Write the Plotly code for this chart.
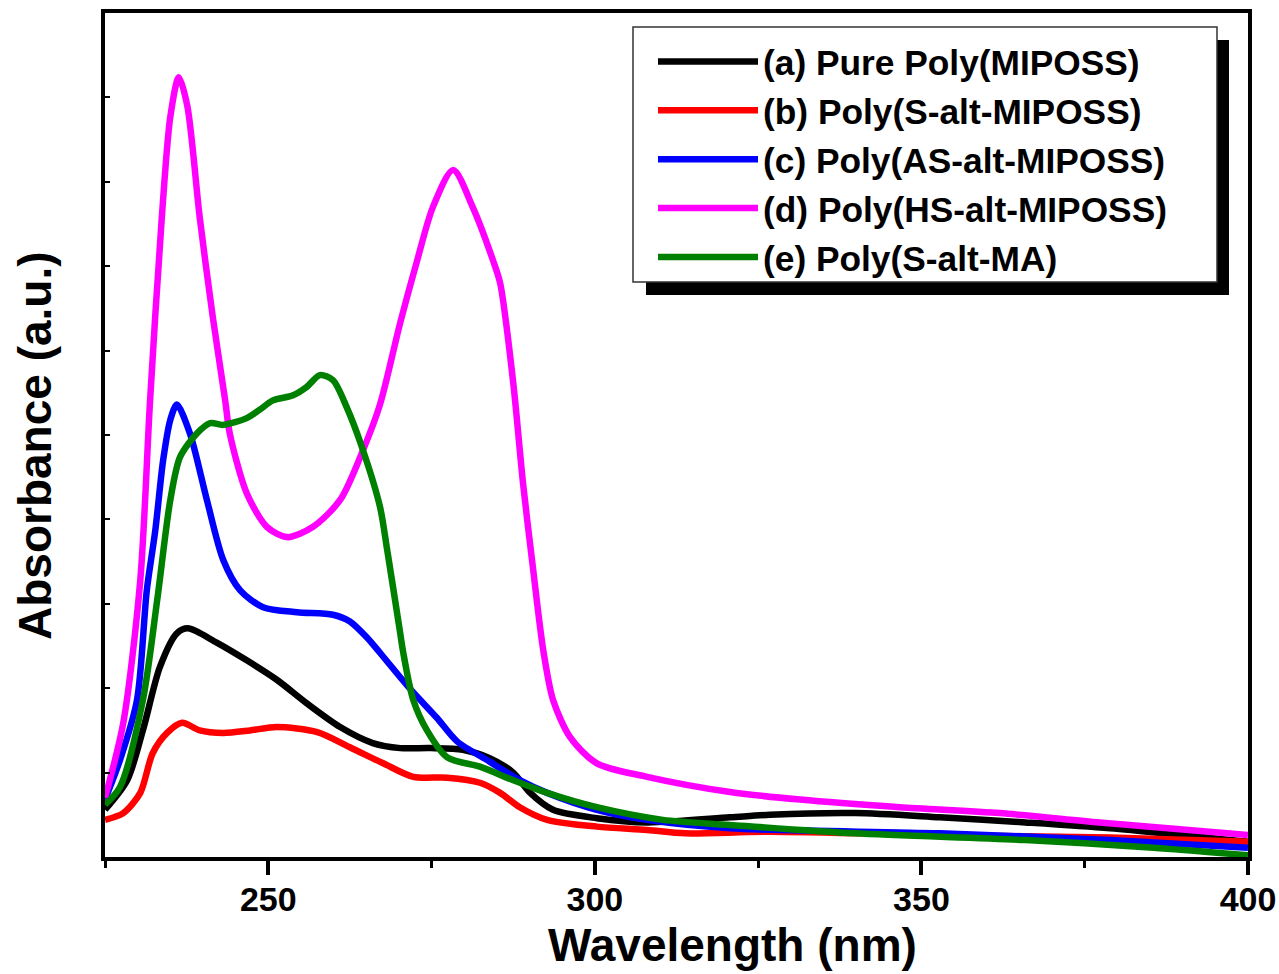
import plotly.graph_objects as go

# (a) Pure Poly(MIPOSS)
wl_a = [225.0, 228.4, 230.8, 233.4, 236.0, 237.7, 242.1, 246.7, 251.3, 255.9, 261.0, 266.0, 270.2, 274.8,
        279.8, 283.9, 287.5, 290.1, 293.6, 300.3, 308.0, 320.7, 326.8, 339.8, 352.8, 365.9, 378.9, 400.0]
abs_a = [0.056, 0.091, 0.150, 0.225, 0.265, 0.271, 0.254, 0.233, 0.210, 0.182, 0.154, 0.135, 0.129, 0.129,
         0.127, 0.117, 0.100, 0.076, 0.056, 0.046, 0.041, 0.047, 0.050, 0.052, 0.047, 0.041, 0.034, 0.018]

# (b) Poly(S-alt-MIPOSS)
wl_b = [225.0, 227.8, 230.4, 232.3, 234.5, 236.8, 239.5, 243.1, 247.2, 251.3, 257.5, 262.5, 267.6, 272.2,
        277.4, 282.4, 285.5, 288.5, 292.7, 300.3, 308.0, 313.8, 326.8, 352.8, 378.9, 400.0]
abs_b = [0.044, 0.052, 0.076, 0.123, 0.147, 0.159, 0.150, 0.147, 0.150, 0.154, 0.148, 0.130, 0.111, 0.095,
         0.094, 0.088, 0.076, 0.059, 0.044, 0.036, 0.032, 0.028, 0.030, 0.026, 0.023, 0.018]

# (c) Poly(AS-alt-MIPOSS)
wl_c = [225.0, 227.3, 229.9, 231.4, 232.7, 233.9, 235.0, 236.0, 238.0, 240.6, 243.1, 245.7, 249.2, 254.4,
        259.9, 262.5, 265.1, 267.1, 270.2, 272.2, 275.8, 278.9, 283.9, 288.5, 292.7, 300.3, 308.0, 320.7,
        352.8, 378.9, 400.0]
abs_c = [0.068, 0.115, 0.186, 0.316, 0.387, 0.470, 0.518, 0.536, 0.502, 0.423, 0.352, 0.316, 0.296, 0.290,
         0.287, 0.279, 0.260, 0.242, 0.213, 0.195, 0.165, 0.137, 0.113, 0.091, 0.076, 0.056, 0.044, 0.034,
         0.028, 0.020, 0.011]

# (d) Poly(HS-alt-MIPOSS)
wl_d = [225.0, 227.8, 230.4, 231.9, 233.7, 235.0, 236.3, 237.6, 239.5, 241.5, 243.4, 244.1, 246.7, 249.8,
        252.9, 256.8, 261.0, 264.5, 267.1, 270.2, 272.8, 275.2, 278.3, 281.3, 284.4, 285.5, 287.5, 289.0,
        290.5, 292.1, 293.6, 296.2, 300.3, 308.0, 320.7, 331.4, 346.7, 362.0, 377.3, 400.0]
abs_d = [0.070, 0.159, 0.328, 0.541, 0.758, 0.877, 0.924, 0.890, 0.758, 0.640, 0.541, 0.502, 0.431, 0.391,
         0.379, 0.391, 0.423, 0.482, 0.536, 0.633, 0.707, 0.770, 0.814, 0.770, 0.707, 0.680, 0.562, 0.443,
         0.344, 0.245, 0.186, 0.142, 0.111, 0.095, 0.077, 0.068, 0.059, 0.052, 0.041, 0.026]

# (e) Poly(S-alt-MA)
wl_e = [225.0, 227.3, 230.8, 233.0, 235.0, 236.5, 239.1, 241.1, 243.1, 246.7, 248.7, 250.7, 253.8, 255.9,
        257.9, 259.9, 262.0, 264.5, 267.1, 268.2, 270.2, 270.6, 272.2, 274.3, 277.4, 282.4, 287.5, 292.7,
        300.3, 310.4, 320.7, 339.8, 365.9, 385.5, 400.0]
abs_e = [0.062, 0.083, 0.186, 0.305, 0.423, 0.474, 0.502, 0.514, 0.512, 0.520, 0.530, 0.541, 0.547, 0.557,
         0.571, 0.565, 0.533, 0.482, 0.415, 0.364, 0.265, 0.245, 0.186, 0.150, 0.118, 0.107, 0.091, 0.076,
         0.059, 0.044, 0.038, 0.028, 0.020, 0.011, 0.002]

series = [
    ("(a) Pure Poly(MIPOSS)", wl_a, abs_a, "#000000"),
    ("(b) Poly(S-alt-MIPOSS)", wl_b, abs_b, "#ff0000"),
    ("(c) Poly(AS-alt-MIPOSS)", wl_c, abs_c, "#0000ff"),
    ("(d) Poly(HS-alt-MIPOSS)", wl_d, abs_d, "#ff00ff"),
    ("(e) Poly(S-alt-MA)", wl_e, abs_e, "#008000"),
]

FONT = "Liberation Sans, Arial, sans-serif"
L, R, T, B = 105, 1248, 13, 857
W, H = R - L, B - T


def px(x):
    return (x - L) / W


def py(y):
    return (B - y) / H


fig = go.Figure()
for name, x, y, c in series:
    fig.add_trace(go.Scatter(x=x, y=y, name=name, mode="lines",
                             line=dict(color=c, width=6.5, shape="spline", smoothing=0.8)))

# legend shadow and box
fig.add_shape(type="rect", xref="paper", yref="paper",
              x0=px(646), x1=px(1229), y0=py(295), y1=py(40),
              fillcolor="black", line=dict(width=0), layer="above")
fig.add_shape(type="rect", xref="paper", yref="paper",
              x0=px(633), x1=px(1217), y0=py(282), y1=py(27),
              fillcolor="white", line=dict(width=1.5, color="#333333"), layer="above")

fig.add_annotation(text="<b>Wavelength (nm)</b>", xref="paper", yref="paper",
                   x=px(732), y=py(945), xanchor="center", yanchor="middle", showarrow=False,
                   font=dict(family=FONT, size=46, color="black"))
fig.add_annotation(text="<b>Absorbance (a.u.)</b>", xref="paper", yref="paper",
                   x=px(35), y=py(446), xanchor="center", yanchor="middle", showarrow=False,
                   textangle=-90, font=dict(family=FONT, size=46, color="black"))

fig.update_layout(
    width=1279, height=974,
    margin=dict(l=L, r=1279 - R, t=T, b=974 - B, autoexpand=False),
    paper_bgcolor="white", plot_bgcolor="white",
    font=dict(family=FONT, color="black"),
    showlegend=True,
    legend=dict(x=px(653), y=py(32), xanchor="left", yanchor="top",
                bgcolor="rgba(0,0,0,0)", borderwidth=0,
                font=dict(family=FONT, size=35.3, color="black", weight="bold"),
                itemwidth=100, tracegroupgap=0),
    xaxis=dict(range=[225, 400], tickvals=[250, 300, 350, 400], ticks="outside", ticklen=14,
               tickwidth=4, tickcolor="black", showline=True, linewidth=4, linecolor="black",
               mirror=True, showgrid=False, zeroline=False, ticklabelstandoff=-5,
               tickfont=dict(family=FONT, size=34, color="black", weight="bold"),
               minor=dict(tickvals=[225, 275, 325, 375], ticks="outside", ticklen=7, tickwidth=3,
                          tickcolor="black")),
    yaxis=dict(range=[0, 1], dtick=0.1, ticks="inside", ticklen=5, tickwidth=2, tickcolor="black",
               showticklabels=False, showline=True, linewidth=4, linecolor="black", mirror=True,
               showgrid=False, zeroline=False),
)

fig.write_html("out.html")
